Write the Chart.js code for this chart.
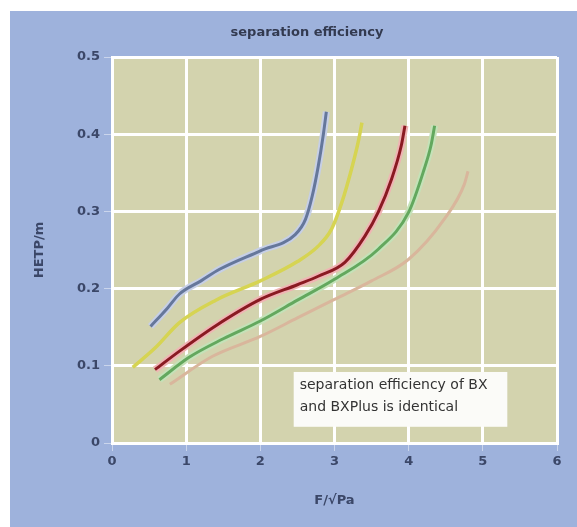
<!DOCTYPE html>
<html>
<head>
<meta charset="utf-8">
<script src="https://cdn.jsdelivr.net/npm/chart.js@4/dist/chart.umd.min.js"></script>
<style>
  html, body { margin: 0; padding: 0; background: #fff; }
  #wrap { width: 577px; height: 527px; }
</style>
</head>
<body>
<div id="wrap"><canvas id="chart" width="577" height="527"></canvas></div>
<script>
// chart data
const chartTitle = 'separation efficiency';
const xTicks = [0, 1, 2, 3, 4, 5, 6];
const yTicks = [0, 0.1, 0.2, 0.3, 0.4, 0.5];
const noteLines = ['separation efficiency of BX', 'and BXPlus is identical'];

const blueX = [0.52, 0.75, 0.91, 1.2, 1.45, 2.0, 2.47, 2.61, 2.7, 2.78, 2.85, 2.89];
const blueY = [0.151, 0.175, 0.193, 0.21, 0.225, 0.249, 0.27, 0.29, 0.32, 0.358, 0.4, 0.429];

const yellowX = [0.28, 0.58, 0.91, 1.4, 2.0, 2.5, 2.78, 2.96, 3.1, 3.23, 3.32, 3.37];
const yellowY = [0.098, 0.123, 0.156, 0.185, 0.21, 0.235, 0.255, 0.277, 0.312, 0.355, 0.39, 0.415];

const redX = [0.58, 0.91, 1.4, 2.0, 2.5, 2.78, 3.14, 3.41, 3.59, 3.77, 3.9, 3.95];
const redY = [0.095, 0.119, 0.152, 0.186, 0.205, 0.216, 0.234, 0.268, 0.299, 0.342, 0.385, 0.411];

const greenX = [0.64, 1.04, 1.5, 2.0, 2.5, 3.0, 3.59, 4.0, 4.21, 4.3, 4.35];
const greenY = [0.082, 0.111, 0.135, 0.158, 0.185, 0.212, 0.251, 0.299, 0.355, 0.385, 0.411];

const tanX = [0.78, 1.35, 2.0, 2.5, 3.0, 3.5, 4.0, 4.48, 4.75, 4.8];
const tanY = [0.076, 0.112, 0.138, 0.162, 0.186, 0.21, 0.238, 0.29, 0.335, 0.352];

const FONT = "'DejaVu Sans', Verdana, sans-serif";
const TEXT = '#3b4768';

function points(xs, ys) {
  return xs.map((x, i) => ({ x: x, y: ys[i] }));
}

// order: lower numbers are drawn on top
function line(xs, ys, color, width, order) {
  return {
    data: points(xs, ys),
    borderColor: color,
    borderWidth: width,
    pointRadius: 0,
    fill: false,
    order: order,
    cubicInterpolationMode: 'monotone'
  };
}

// backgrounds, title and the note box
const decor = {
  id: 'decor',
  beforeDraw(chart) {
    const { ctx, chartArea: a } = chart;
    ctx.save();
    ctx.fillStyle = '#ffffff';
    ctx.fillRect(0, 0, chart.width, chart.height);
    ctx.fillStyle = '#9eb2dc';
    ctx.fillRect(10, 11, chart.width - 10, chart.height - 11);
    ctx.fillStyle = '#d3d3ae';
    ctx.fillRect(a.left, a.top, a.right - a.left, a.bottom - a.top);
    ctx.restore();
  },
  afterDraw(chart) {
    const { ctx } = chart;
    const xs = chart.scales.x, ys = chart.scales.y;
    ctx.save();
    // title
    ctx.font = 'bold 13px ' + FONT;
    ctx.fillStyle = '#333a50';
    ctx.textAlign = 'center';
    ctx.textBaseline = 'middle';
    ctx.fillText(chartTitle, 307, 33);
    // note box
    const left = xs.getPixelForValue(2.45);
    const right = xs.getPixelForValue(5.33);
    const top = ys.getPixelForValue(0.092);
    const bottom = ys.getPixelForValue(0.021);
    ctx.fillStyle = '#fbfbf8';
    ctx.fillRect(left, top, right - left, bottom - top);
    ctx.font = '14px ' + FONT;
    ctx.fillStyle = '#333333';
    ctx.textAlign = 'left';
    ctx.fillText(noteLines[0], left + 6, top + 13);
    ctx.fillText(noteLines[1], left + 6, top + 35);
    ctx.restore();
  }
};

const ctx = document.getElementById('chart').getContext('2d');
new Chart(ctx, {
  type: 'line',
  data: {
    datasets: [
      line(tanX, tanY, '#d9b69c', 3, 1),
      line(greenX, greenY, '#c4e2b8', 7, 2),
      line(greenX, greenY, '#63a85e', 3, 1),
      line(redX, redY, '#f0b4b4', 7, 2),
      line(redX, redY, '#8a1a22', 3, 1),
      line(yellowX, yellowY, '#d6d452', 3.5, 1),
      line(blueX, blueY, '#c6cfe6', 7, 2),
      line(blueX, blueY, '#65779b', 3, 0)
    ]
  },
  options: {
    responsive: false,
    animation: false,
    layout: { padding: { top: 57, right: 20, left: 10, bottom: 0 } },
    plugins: {
      legend: { display: false },
      tooltip: { enabled: false }
    },
    scales: {
      x: {
        type: 'linear',
        min: xTicks[0],
        max: xTicks[xTicks.length - 1],
        afterBuildTicks(scale) { scale.ticks = xTicks.map(v => ({ value: v })); },
        afterFit(scale) { scale.height = 84; },
        grid: { color: '#ffffff', lineWidth: 3, tickLength: 8, tickColor: 'rgba(255,255,255,0.45)', tickWidth: 1 },
        border: { color: '#ffffff', width: 3 },
        ticks: { color: TEXT, font: { family: FONT, size: 13, weight: 'bold' }, padding: 3, callback: v => String(v) },
        title: { display: true, text: 'F/√Pa', color: TEXT, font: { family: FONT, size: 13, weight: 'bold' }, padding: { top: 0, bottom: 19 } }
      },
      y: {
        type: 'linear',
        min: yTicks[0],
        max: yTicks[yTicks.length - 1],
        afterBuildTicks(scale) { scale.ticks = yTicks.map(v => ({ value: v })); },
        afterFit(scale) { scale.width = 102; },
        grid: { color: '#ffffff', lineWidth: 3, tickLength: 8, tickColor: 'rgba(255,255,255,0.45)', tickWidth: 1 },
        border: { color: '#ffffff', width: 3 },
        ticks: { color: TEXT, font: { family: FONT, size: 13, weight: 'bold' }, padding: 4, callback: v => String(v) },
        title: { display: true, text: 'HETP/m', color: TEXT, font: { family: FONT, size: 13, weight: 'bold' }, padding: { top: 22, bottom: 0 } }
      }
    }
  },
  plugins: [decor]
});
</script>
</body>
</html>
